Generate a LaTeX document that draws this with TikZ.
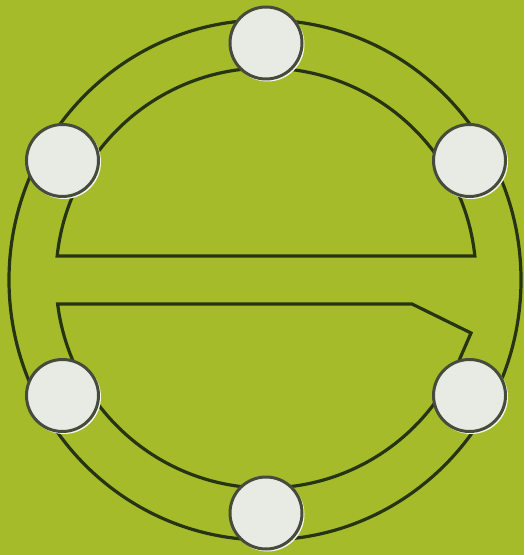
\documentclass[tikz,border=0pt]{standalone}
\usetikzlibrary{calc}
\definecolor{bg}{RGB}{166,187,42}
\definecolor{ink}{RGB}{38,52,20}
\definecolor{ballfill}{RGB}{232,234,228}
\definecolor{balledge}{RGB}{70,76,60}
\definecolor{halo}{RGB}{245,246,238}
\tikzset{
  band/.style={draw=ink, line width=1.6pt, line join=miter},
  ball/.style={circle, draw=balledge, fill=ballfill, line width=1.5pt, minimum size=36pt, inner sep=0pt},
  ballhalo/.style={circle, fill=halo, minimum size=37pt, inner sep=0pt}
}
\begin{document}
\begin{tikzpicture}[x=0.5pt,y=-0.5pt]
  \useasboundingbox (0,0) rectangle (524,555);
  \fill[bg] (0,0) rectangle (524,555);
  \coordinate (c) at (266,278);
  % outer ring
  \draw[band] (265,280) ellipse [x radius=256, y radius=260];
  % upper half of inner ring
  \draw[band] ($(c)+(186:210)$) arc[start angle=186, end angle=354, radius=210] -- cycle;
  % lower half of inner ring with notch
  \coordinate (lr1) at (471,333);
  \coordinate (lr2) at (412,304);
  \draw[band] ($(c)+(172.9:210)$) arc[start angle=172.9, end angle=22, radius=210]
     -- (lr1) -- (lr2) -- cycle;
  % balls
  \foreach \a/\n in {270/top,210/ul,330/ur,150/ll,30/lr,90/bot}{
    \node[ballhalo] at ($(c)+(\a:235)+(1.5,1.5)$) {};
    \node[ball] (\n) at ($(c)+(\a:235)$) {};
  }
\end{tikzpicture}
\end{document}
